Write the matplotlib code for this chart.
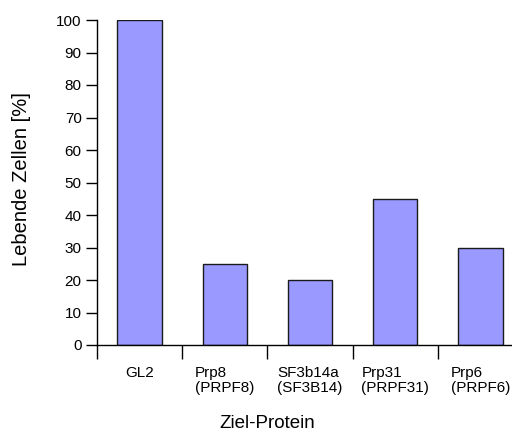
import matplotlib
matplotlib.use("Agg")
from matplotlib import pyplot as plt

# data
categories = ["GL2", "Prp8\n(PRPF8)", "SF3b14a\n(SF3B14)", "Prp31\n(PRPF31)", "Prp6\n(PRPF6)"]
values = [100, 25, 20, 45, 30]

plt.rcParams['font.family'] = ['Liberation Sans', 'DejaVu Sans']

fig = plt.figure(figsize=(5.12, 4.32), dpi=100)
# axes: left edge at px 97, y=0 at px 345, y=100 at px 20, right edge at figure edge
ax = fig.add_axes([97/512, 1-345/432, 1-97/512, 325/432])

x = list(range(len(values)))
ax.bar(x, values, width=0.52, color='#9999ff', edgecolor='#1a1a1a', linewidth=1.0)

ax.set_xlim(-0.5, 4.37)
ax.set_ylim(0, 100)
ax.set_yticks(range(0, 101, 10))

# category separators as ticks, labels at bar centres
ax.set_xticks([i - 0.5 for i in x])
ax.set_xticklabels([])
ax.tick_params(axis='x', which='major', direction='out', length=10, width=1, color='black')
ax.set_xticks(x, minor=True)
ax.set_xticklabels(categories, minor=True, fontsize=11, multialignment='left', linespacing=1.1)
ax.tick_params(axis='x', which='minor', length=0, pad=15)
ax.tick_params(axis='y', direction='out', length=8, width=1, labelsize=11, pad=3)

for side in ['top', 'right']:
    ax.spines[side].set_visible(False)
ax.spines['left'].set_linewidth(1)
ax.spines['bottom'].set_linewidth(1)

ax.set_ylabel("Lebende Zellen [%]", fontsize=14.5)
ax.yaxis.set_label_coords(-(97-31)/415, (345-179)/325)
ax.set_xlabel("Ziel-Protein", fontsize=13.5, va='center')
ax.xaxis.set_label_coords((267-97)/(512-97), -(423-345)/325)

fig.savefig("out.png", dpi=100)
